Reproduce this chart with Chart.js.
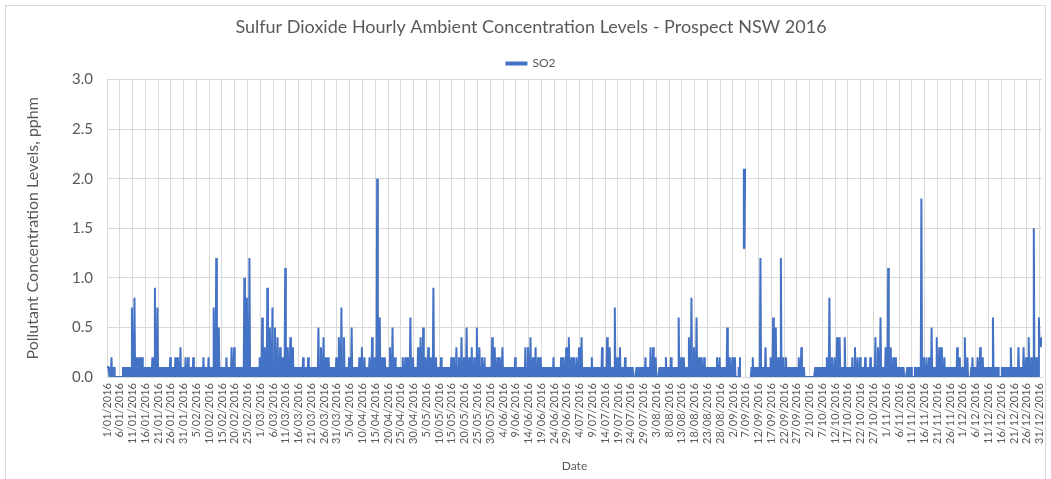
<!DOCTYPE html>
<html>
<head>
<meta charset="utf-8">
<script src="https://cdn.jsdelivr.net/npm/chart.js@4/dist/chart.umd.min.js"></script>
<style>
  body { margin: 0; background: #fff; }
  #wrap { position: relative; width: 1051px; height: 479px; }
  #frame { position: absolute; left: 5px; top: 5px; width: 1041px; height: 480px; border: 1px solid #d9d9d9; box-sizing: border-box; }
</style>
</head>
<body>
<div id="wrap">
  <div id="frame"></div>
  <canvas id="myChart" width="1051" height="479"></canvas>
</div>
<script>
// hourly SO2 readings (pphm), 1 Jan - 31 Dec 2016, summarised per day; null = no data
// peak hour of each day
const dailyMax = [
  0.1, 0.2, 0.1, 0, 0, 0, 0.1, 0.1, 0.1, 0.7,
  0.8, 0.2, 0.2, 0.2, 0.1, 0.1, 0.1, 0.2, 0.9, 0.7,
  0.1, 0.1, 0.1, 0.1, 0.2, 0.1, 0.2, 0.2, 0.3, 0.1,
  0.2, 0.2, 0.1, 0.2, 0.1, 0.1, 0.1, 0.2, 0.1, 0.2,
  0.1, 0.7, 1.2, 0.5, 0.1, 0.1, 0.2, 0.1, 0.3, 0.3,
  0.1, 0.1, 0.1, 1.0, 0.8, 1.2, 0.1, 0.1, 0.1, 0.2,
  0.6, 0.3, 0.9, 0.5, 0.7, 0.5, 0.4, 0.3, 0.2, 1.1,
  0.3, 0.4, 0.3, 0.1, 0.1, 0.1, 0.2, 0.1, 0.2, 0.1,
  0.1, 0.1, 0.5, 0.3, 0.4, 0.2, 0.2, 0.1, 0.1, 0.2,
  0.4, 0.7, 0.4, 0.1, 0.2, 0.5, 0.1, 0.1, 0.2, 0.3,
  0.2, 0.1, 0.2, 0.4, 0.2, 2.0, 0.6, 0.2, 0.2, 0.1,
  0.3, 0.5, 0.2, 0.1, 0.1, 0.2, 0.2, 0.2, 0.6, 0.2,
  0.1, 0.3, 0.4, 0.5, 0.2, 0.3, 0.2, 0.9, 0.2, 0.1,
  0.2, 0.1, 0.1, 0.1, 0.2, 0.2, 0.3, 0.2, 0.4, 0.2,
  0.5, 0.2, 0.3, 0.2, 0.5, 0.3, 0.2, 0.2, 0.1, 0.1,
  0.4, 0.3, 0.2, 0.2, 0.3, 0.1, 0.1, 0.1, 0.1, 0.2,
  0.1, 0.1, 0.1, 0.3, 0.3, 0.4, 0.2, 0.3, 0.2, 0.2,
  0.1, 0.1, 0.1, 0.1, 0.2, 0.1, 0.1, 0.2, 0.2, 0.3,
  0.4, 0.2, 0.2, 0.2, 0.3, 0.4, 0.1, 0.1, 0.1, 0.2,
  0.1, 0.1, 0.1, 0.3, 0.1, 0.4, 0.3, 0.1, 0.7, 0.2,
  0.3, 0.1, 0.2, 0.1, 0.1, 0.1, 0, 0.1, 0.1, 0.1,
  0.2, 0.1, 0.3, 0.3, 0.2, 0, 0.1, 0.1, 0.2, 0.1,
  0.2, 0.1, 0.1, 0.6, 0.2, 0.2, 0.1, 0.4, 0.8, 0.3,
  0.6, 0.2, 0.2, 0.2, 0.1, 0.1, 0.1, 0.1, 0.2, 0.2,
  0.1, 0.1, 0.5, 0.2, 0.2, 0.2, 0, 0.2, null, 2.1,
  null, null, 0.2, 0.1, 0.1, 1.2, 0.1, 0.3, 0.1, 0.2,
  0.6, 0.5, 0.2, 1.2, 0.2, 0.2, 0.1, 0.1, 0.1, 0.1,
  0.2, 0.3, 0.1, 0, 0, 0, 0, 0.1, 0.1, 0.1,
  0.1, 0.2, 0.8, 0.2, 0.2, 0.4, 0.4, 0.1, 0.4, 0.1,
  0.1, 0.2, 0.3, 0.2, 0.2, 0.1, 0.2, 0.1, 0.2, 0.1,
  0.4, 0.3, 0.6, 0.1, 0.3, 1.1, 0.3, 0.2, 0.2, 0.1,
  0.1, 0.1, 0, 0.1, 0.1, 0, 0.1, 0.1, 1.8, 0.2,
  0.2, 0.2, 0.5, 0.1, 0.4, 0.3, 0.3, 0.2, 0.1, 0.1,
  0.1, 0.1, 0.3, 0.2, 0.1, 0.4, 0.2, 0, 0.2, 0.1,
  0.2, 0.3, 0.2, 0.1, 0.1, 0.1, 0.6, 0.1, 0.1, 0,
  0.1, 0.1, 0.1, 0.3, 0.1, 0.1, 0.3, 0.1, 0.3, 0.2,
  0.4, 0.2, 1.5, 0.2, 0.6, 0.4
];
// level most hours of the day sit at
const dailyTypical = [
  0.1, 0.1, 0.1, 0, 0, 0, 0.1, 0.1, 0.1, 0.1,
  0.1, 0.2, 0.2, 0.2, 0.1, 0.1, 0.1, 0.1, 0.1, 0.1,
  0.1, 0.1, 0.1, 0.1, 0.1, 0.1, 0.1, 0.1, 0.1, 0.1,
  0.1, 0.1, 0.1, 0.1, 0.1, 0.1, 0.1, 0.1, 0.1, 0.1,
  0.1, 0.1, 0.1, 0.1, 0.1, 0.1, 0.1, 0.1, 0.1, 0.1,
  0.1, 0.1, 0.1, 0.1, 0.1, 0.1, 0.1, 0.1, 0.1, 0.1,
  0.1, 0.1, 0.1, 0.1, 0.1, 0.1, 0.1, 0.1, 0.1, 0.1,
  0.1, 0.1, 0.1, 0.1, 0.1, 0.1, 0.1, 0.1, 0.1, 0.1,
  0.1, 0.1, 0.1, 0.1, 0.1, 0.1, 0.1, 0.1, 0.1, 0.1,
  0.1, 0.1, 0.1, 0.1, 0.1, 0.1, 0.1, 0.1, 0.1, 0.1,
  0.1, 0.1, 0.1, 0.1, 0.1, 0.1, 0.1, 0.1, 0.1, 0.1,
  0.1, 0.1, 0.1, 0.1, 0.1, 0.1, 0.1, 0.1, 0.1, 0.1,
  0.1, 0.1, 0.1, 0.1, 0.1, 0.1, 0.1, 0.1, 0.1, 0.1,
  0.1, 0.1, 0.1, 0.1, 0.1, 0.1, 0.1, 0.1, 0.1, 0.1,
  0.1, 0.1, 0.1, 0.1, 0.1, 0.1, 0.1, 0.1, 0.1, 0.1,
  0.1, 0.1, 0.1, 0.1, 0.1, 0.1, 0.1, 0.1, 0.1, 0.1,
  0.1, 0.1, 0.1, 0.1, 0.1, 0.1, 0.1, 0.1, 0.1, 0.1,
  0.1, 0.1, 0.1, 0.1, 0.1, 0.1, 0.1, 0.1, 0.1, 0.1,
  0.1, 0.1, 0.1, 0.1, 0.1, 0.1, 0.1, 0.1, 0.1, 0.1,
  0.1, 0.1, 0.1, 0.1, 0.1, 0.1, 0.1, 0.1, 0.1, 0.1,
  0.1, 0.1, 0.1, 0.1, 0.1, 0.1, 0, 0.1, 0.1, 0.1,
  0.1, 0.1, 0.1, 0.1, 0.1, 0, 0.1, 0.1, 0.1, 0.1,
  0.1, 0.1, 0.1, 0.1, 0.1, 0.1, 0.1, 0.1, 0.1, 0.1,
  0.1, 0.1, 0.1, 0.1, 0.1, 0.1, 0.1, 0.1, 0.1, 0.1,
  0.1, 0.1, 0.1, 0.1, 0.1, 0.1, 0, 0.1, null, 2.1,
  null, null, 0.1, 0.1, 0.1, 0.1, 0.1, 0.1, 0.1, 0.1,
  0.1, 0.1, 0.1, 0.1, 0.1, 0.1, 0.1, 0.1, 0.1, 0.1,
  0.1, 0.1, 0.1, 0, 0, 0, 0, 0.1, 0.1, 0.1,
  0.1, 0.1, 0.1, 0.1, 0.1, 0.1, 0.1, 0.1, 0.1, 0.1,
  0.1, 0.1, 0.1, 0.1, 0.1, 0.1, 0.1, 0.1, 0.1, 0.1,
  0.1, 0.1, 0.1, 0.1, 0.1, 0.1, 0.1, 0.1, 0.1, 0.1,
  0.1, 0.1, 0, 0.1, 0.1, 0, 0.1, 0.1, 0.1, 0.1,
  0.1, 0.1, 0.1, 0.1, 0.1, 0.1, 0.1, 0.1, 0.1, 0.1,
  0.1, 0.1, 0.1, 0.1, 0.1, 0.1, 0.1, 0, 0.1, 0.1,
  0.1, 0.1, 0.1, 0.1, 0.1, 0.1, 0.1, 0.1, 0.1, 0,
  0.1, 0.1, 0.1, 0.1, 0.1, 0.1, 0.1, 0.1, 0.1, 0.1,
  0.1, 0.1, 0.1, 0.1, 0.1, 0.4
];
// lowest hour of each day
const dailyMin = [
  0.1, 0, 0, 0, 0, 0, 0, 0, 0, 0,
  0, 0, 0, 0, 0, 0, 0, 0, 0, 0,
  0, 0, 0, 0, 0, 0, 0, 0, 0, 0,
  0, 0, 0, 0, 0, 0, 0, 0, 0, 0,
  0, 0, 0, 0, 0, 0, 0, 0, 0, 0,
  0, 0, 0, 0, 0, 0, 0, 0, 0, 0,
  0, 0, 0, 0, 0, 0, 0, 0, 0, 0,
  0, 0, 0, 0, 0, 0, 0, 0, 0, 0,
  0, 0, 0, 0, 0, 0, 0, 0, 0, 0,
  0, 0, 0, 0, 0, 0, 0, 0, 0, 0,
  0, 0, 0, 0, 0, 0, 0, 0, 0, 0,
  0, 0, 0, 0, 0, 0, 0, 0, 0, 0,
  0, 0, 0, 0, 0, 0, 0, 0, 0, 0,
  0, 0, 0, 0, 0, 0, 0, 0, 0, 0,
  0, 0, 0, 0, 0, 0, 0, 0, 0, 0,
  0, 0, 0, 0, 0, 0, 0, 0, 0, 0,
  0, 0, 0, 0, 0, 0, 0, 0, 0, 0,
  0, 0, 0, 0, 0, 0, 0, 0, 0, 0,
  0, 0, 0, 0, 0, 0, 0, 0, 0, 0,
  0, 0, 0, 0, 0, 0, 0, 0, 0, 0,
  0, 0, 0, 0, 0, 0, 0, 0, 0, 0,
  0, 0, 0, 0, 0, 0, 0, 0, 0, 0,
  0, 0, 0, 0, 0, 0, 0, 0, 0, 0,
  0, 0, 0, 0, 0, 0, 0, 0, 0, 0,
  0, 0, 0, 0, 0, 0, 0, 0, null, 1.3,
  null, null, 0, 0, 0, 0, 0, 0, 0, 0,
  0, 0, 0, 0, 0, 0, 0, 0, 0, 0,
  0, 0, 0, 0, 0, 0, 0, 0, 0, 0,
  0, 0, 0, 0, 0, 0, 0, 0, 0, 0,
  0, 0, 0, 0, 0, 0, 0, 0, 0, 0,
  0, 0, 0, 0, 0, 0, 0, 0, 0, 0,
  0, 0, 0, 0, 0, 0, 0, 0, 0, 0,
  0, 0, 0, 0, 0, 0, 0, 0, 0, 0,
  0, 0, 0, 0, 0, 0, 0, 0, 0, 0,
  0, 0, 0, 0, 0, 0, 0, 0, 0, 0,
  0, 0, 0, 0, 0, 0, 0, 0, 0, 0,
  0, 0, 0, 0, 0, 0.3
];
// one label every 5 days
const tickLabels = [
  "1/01/2016", "6/01/2016", "11/01/2016", "16/01/2016", "21/01/2016", "26/01/2016", "31/01/2016",
  "5/02/2016", "10/02/2016", "15/02/2016", "20/02/2016", "25/02/2016",
  "1/03/2016", "6/03/2016", "11/03/2016", "16/03/2016", "21/03/2016", "26/03/2016", "31/03/2016",
  "5/04/2016", "10/04/2016", "15/04/2016", "20/04/2016", "25/04/2016", "30/04/2016",
  "5/05/2016", "10/05/2016", "15/05/2016", "20/05/2016", "25/05/2016", "30/05/2016",
  "4/06/2016", "9/06/2016", "14/06/2016", "19/06/2016", "24/06/2016", "29/06/2016",
  "4/07/2016", "9/07/2016", "14/07/2016", "19/07/2016", "24/07/2016", "29/07/2016",
  "3/08/2016", "8/08/2016", "13/08/2016", "18/08/2016", "23/08/2016", "28/08/2016",
  "2/09/2016", "7/09/2016", "12/09/2016", "17/09/2016", "22/09/2016", "27/09/2016",
  "2/10/2016", "7/10/2016", "12/10/2016", "17/10/2016", "22/10/2016", "27/10/2016",
  "1/11/2016", "6/11/2016", "11/11/2016", "16/11/2016", "21/11/2016", "26/11/2016",
  "1/12/2016", "6/12/2016", "11/12/2016", "16/12/2016", "21/12/2016", "26/12/2016", "31/12/2016"
];
const yTicks = [0, 0.5, 1.0, 1.5, 2.0, 2.5, 3.0];

const blue = "#4472C4";
const grey = "#595959";
const gridGrey = "#d9d9d9";
const font = "Lato, 'Open Sans', sans-serif";

// each day: low, usual level, low, peak
let points = [];
for (let d = 0; d < dailyMax.length; d++) {
    points.push({ x: d, y: dailyMin[d] });
    points.push({ x: d + 0.25, y: dailyTypical[d] });
    points.push({ x: d + 0.5, y: dailyMin[d] });
    points.push({ x: d + 0.75, y: dailyMax[d] });
}

let ctx = document.getElementById("myChart");
new Chart(ctx, {
    type: "line",
    data: {
        datasets: [
            {
                label: "SO2",
                data: points,
                borderColor: blue,
                backgroundColor: blue,
                borderWidth: 2,
                pointRadius: 0,
                tension: 0,
                spanGaps: false,
            },
        ],
    },
    options: {
        responsive: false,
        animation: false,
        devicePixelRatio: 1,
        layout: { padding: { left: 20, right: 9, top: 0, bottom: 6 } },
        plugins: {
            title: {
                display: true,
                text: "Sulfur Dioxide Hourly Ambient Concentration Levels - Prospect NSW 2016",
                color: grey,
                font: { family: font, size: 18, weight: "normal" },
                padding: { top: 16, bottom: 10 },
            },
            legend: {
                display: true,
                labels: {
                    color: grey,
                    font: { family: font, size: 12 },
                    boxWidth: 20,
                    boxHeight: 2,
                    padding: 10,
                },
            },
            tooltip: { enabled: false },
        },
        scales: {
            x: {
                type: "linear",
                min: 0,
                max: 365 + 23 / 24,
                afterBuildTicks: (scale) => {
                    scale.ticks = tickLabels.map((t, i) => ({ value: i * 5 }));
                },
                afterFit: (scale) => {
                    scale.height = 96;
                    scale.paddingLeft = 0;
                    scale.paddingRight = 0;
                },
                ticks: {
                    autoSkip: false,
                    maxRotation: 90,
                    minRotation: 90,
                    padding: 6,
                    color: grey,
                    font: { family: font, size: 11 },
                    callback: (v) => tickLabels[Math.round(v / 5)],
                },
                grid: { color: gridGrey, drawTicks: false },
                border: { color: gridGrey },
                title: {
                    display: true,
                    text: "Date",
                    color: grey,
                    font: { family: font, size: 12 },
                    padding: { top: 0, bottom: 0 },
                },
            },
            y: {
                min: 0,
                max: 3,
                afterBuildTicks: (scale) => {
                    scale.ticks = yTicks.map((v) => ({ value: v }));
                },
                afterFit: (scale) => { scale.width = 87; },
                ticks: {
                    padding: 14,
                    color: grey,
                    font: { family: font, size: 15 },
                    callback: (v) => v.toFixed(1),
                },
                grid: { color: gridGrey, drawTicks: false },
                border: { display: false },
                title: {
                    display: true,
                    text: "Pollutant Concentration Levels, pphm",
                    color: grey,
                    font: { family: font, size: 16 },
                    padding: { top: 3, bottom: 0 },
                },
            },
        },
    },
});
</script>
</body>
</html>
